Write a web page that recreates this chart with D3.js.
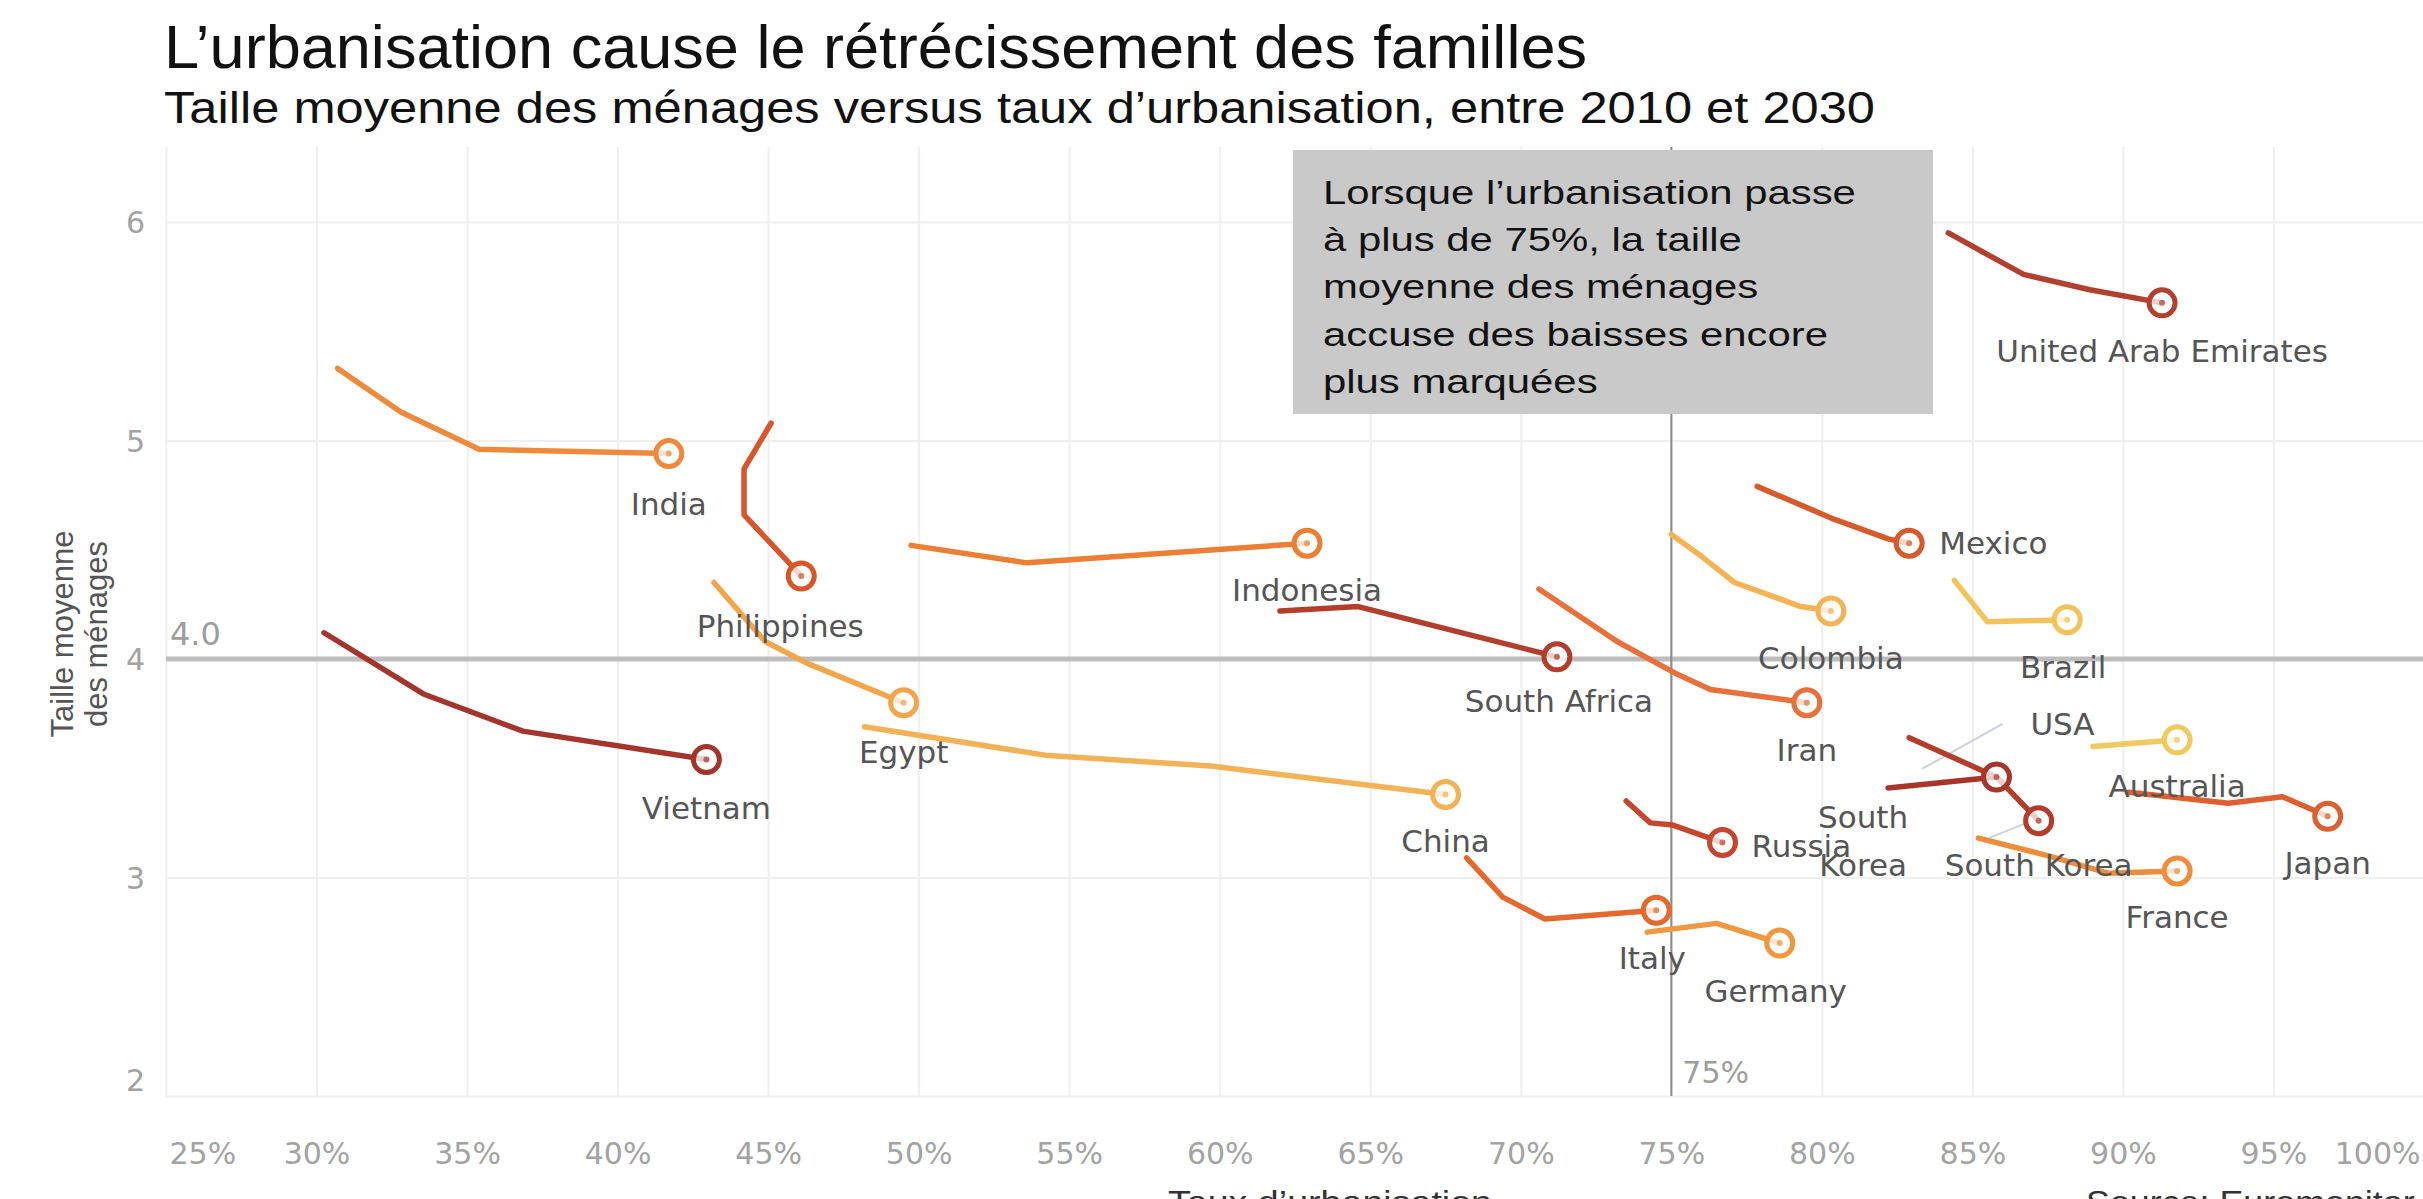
<!DOCTYPE html>
<html>
<head>
<meta charset="utf-8">
<script src="https://cdn.jsdelivr.net/npm/d3@7"></script>
<style>
  body { margin: 0; background: #fff; }
  svg { display: block; }
  .grid line { stroke: #efefef; stroke-width: 2; }
  .tick-label text { font-family: "DejaVu Sans", sans-serif; font-size: 30px; fill: #a3a3a3; }
  .country-label { font-family: "DejaVu Sans", sans-serif; font-size: 31px; fill: #555; }
  .ref-label { font-family: "DejaVu Sans", sans-serif; fill: #9d9d9d; }
  .head { font-family: "Liberation Sans", Arial, sans-serif; fill: #111; }
  .axis-title { font-family: "Liberation Sans", Arial, sans-serif; fill: #555; font-size: 31px; }
</style>
</head>
<body>
<div class="app"></div>
<script>
'use strict'

// pays, dans l'ordre des tableaux ci-dessous
var countries = ["India", "Philippines", "Vietnam", "Egypt", "Indonesia", "China",
  "South Africa", "Italy", "Germany", "Russia", "Iran", "Mexico", "Colombia", "Brazil",
  "United Arab Emirates", "USA", "South Korea", "Australia", "Japan", "France"];

// taux d'urbanisation (%), de 2010 à 2030
var urbanRates = [
  [30.7, 32.8, 35.4, 41.7],
  [45.1, 44.2, 44.2, 46.1],
  [30.25, 33.55, 36.85, 42.95],
  [43.2, 44.9, 46.3, 49.5],
  [49.75, 53.6, 62.9],
  [48.2, 54.2, 59.7, 67.5],
  [62.0, 64.6, 71.2],
  [68.2, 69.4, 70.8, 74.5],
  [74.2, 76.5, 78.6],
  [73.5, 74.3, 75.05, 76.7],
  [70.6, 73.2, 75.2, 76.3, 79.5],
  [77.85, 80.4, 82.2, 82.9],
  [75.0, 76.0, 77.1, 79.3, 80.3],
  [84.4, 85.5, 88.15],
  [84.2, 86.7, 88.9, 91.3],
  [82.2, 85.8],
  [82.9, 85.8, 87.2],
  [89.0, 91.8],
  [90.2, 93.5, 95.3, 96.8],
  [85.2, 87.5, 89.5, 91.8]
];

// taille moyenne des ménages, mêmes années
var householdSizes = [
  [5.33, 5.13, 4.96, 4.94],
  [5.08, 4.87, 4.66, 4.38],
  [4.12, 3.84, 3.67, 3.54],
  [4.35, 4.08, 3.98, 3.80],
  [4.52, 4.44, 4.53],
  [3.69, 3.56, 3.51, 3.38],
  [4.22, 4.24, 4.01],
  [3.09, 2.91, 2.81, 2.85],
  [2.75, 2.79, 2.70],
  [3.35, 3.25, 3.24, 3.16],
  [4.32, 4.08, 3.93, 3.86, 3.80],
  [4.79, 4.64, 4.55, 4.53],
  [4.57, 4.47, 4.35, 4.24, 4.22],
  [4.36, 4.17, 4.18],
  [5.95, 5.76, 5.69, 5.63],
  [3.41, 3.46],
  [3.64, 3.46, 3.26],
  [3.60, 3.63],
  [3.39, 3.34, 3.37, 3.28],
  [3.18, 3.10, 3.02, 3.03]
];

var xTicks = [25, 30, 35, 40, 45, 50, 55, 60, 65, 70, 75, 80, 85, 90, 95, 100];
var yTicks = [2, 3, 4, 5, 6];
var refSize = 4.0;
var refUrban = 75;

var title = "L’urbanisation cause le rétrécissement des familles";
var subtitle = "Taille moyenne des ménages versus taux d’urbanisation, entre 2010 et 2030";
var noteLines = ["Lorsque l’urbanisation passe", "à plus de 75%, la taille",
  "moyenne des ménages", "accuse des baisses encore", "plus marquées"];

// couleurs des courbes
var colors = ["#ef8a3d", "#d8562c", "#a3352c", "#f3a54c", "#ec7f33", "#f4b257",
  "#b23e2b", "#e4692f", "#f0973f", "#c5472d", "#e8703a", "#d75a2b", "#f4b456",
  "#f2c35a", "#b2402e", "#a8352a", "#b53b2b", "#f0c95f", "#de5f2f", "#ef8d3c"];

// position des étiquettes par rapport au dernier point (px)
var labelPlacement = {
  "India": {dx: 0, dy: 50},
  "Philippines": {dx: -21, dy: 50},
  "Vietnam": {dx: 0, dy: 48},
  "Egypt": {dx: 0, dy: 49},
  "Indonesia": {dx: 0, dy: 47},
  "China": {dx: 0, dy: 46},
  "South Africa": {dx: 2, dy: 44},
  "Italy": {dx: -4, dy: 48},
  "Germany": {dx: -4, dy: 48},
  "Russia": {dx: 29, dy: 3, anchor: "start"},
  "Iran": {dx: 0, dy: 47},
  "Mexico": {dx: 30, dy: 0, anchor: "start"},
  "Colombia": {dx: 0, dy: 47},
  "Brazil": {dx: -4, dy: 47},
  "United Arab Emirates": {dx: 0, dy: 48},
  "USA": {dx: 66, dy: -53},
  "South Korea": {dx: 0, dy: 44},
  "Australia": {dx: 0, dy: 46},
  "Japan": {dx: 0, dy: 47},
  "France": {dx: 0, dy: 46}
};

var W = 2423, H = 1199;
var plotTop = 147;

var x = d3.scaleLinear().domain([25, 100]).range([166, 2424]);
var y = d3.scaleLinear().domain([2, 6]).range([1096, 222]);

var svg = d3.select(".app").append("svg")
  .attr("width", W)
  .attr("height", H);

// titre et sous-titre
svg.append("text").attr("class", "head")
  .attr("x", 164).attr("y", 68)
  .attr("font-size", 61)
  .attr("textLength", 1423).attr("lengthAdjust", "spacingAndGlyphs")
  .text(title);

svg.append("text").attr("class", "head")
  .attr("x", 164).attr("y", 123)
  .attr("font-size", 44)
  .attr("textLength", 1711).attr("lengthAdjust", "spacingAndGlyphs")
  .text(subtitle);

// grille
var gridX = svg.append("g").attr("class", "grid")
  .attr("transform", "translate(0," + y(2) + ")")
  .call(d3.axisBottom(x).tickValues(xTicks).tickSize(-(y(2) - plotTop)).tickFormat(""));
gridX.select(".domain").remove();

var gridY = svg.append("g").attr("class", "grid")
  .attr("transform", "translate(" + x(25) + ",0)")
  .call(d3.axisLeft(y).tickValues(yTicks).tickSize(-(W - x(25))).tickFormat(""));
gridY.select(".domain").remove();

// axe X
var xAxis = svg.append("g").attr("class", "tick-label")
  .attr("transform", "translate(0,1153)")
  .call(d3.axisBottom(x).tickValues(xTicks).tickSize(0).tickPadding(0)
    .tickFormat(function(d) { return d + "%"; }));
xAxis.select(".domain").remove();
xAxis.selectAll("text").attr("dy", "0.36em")
  .attr("text-anchor", function(d) { return d === 25 ? "start" : d === 100 ? "end" : "middle"; })
  .attr("dx", function(d) { return d === 25 ? 3 : d === 100 ? -4 : 0; });

// axe Y
var yAxis = svg.append("g").attr("class", "tick-label")
  .attr("transform", "translate(145,0)")
  .call(d3.axisLeft(y).tickValues(yTicks).tickSize(0).tickPadding(0)
    .tickFormat(d3.format("d")));
yAxis.select(".domain").remove();
yAxis.selectAll("text")
  .attr("dy", function(d) { return d === 2 ? "-0.18em" : "0.36em"; });

// titre de l'axe Y
svg.append("text").attr("class", "axis-title")
  .attr("transform", "translate(73,634) rotate(-90)")
  .attr("text-anchor", "middle").text("Taille moyenne");
svg.append("text").attr("class", "axis-title")
  .attr("transform", "translate(107,634) rotate(-90)")
  .attr("text-anchor", "middle").text("des ménages");

// lignes de référence
svg.append("line")
  .attr("x1", x(25)).attr("x2", W)
  .attr("y1", y(refSize)).attr("y2", y(refSize))
  .attr("stroke", "#bdbdbd").attr("stroke-width", 5);

svg.append("text").attr("class", "ref-label")
  .attr("x", x(25) + 4).attr("y", y(refSize) - 14)
  .attr("font-size", 32)
  .text(refSize.toFixed(1));

svg.append("line")
  .attr("x1", x(refUrban)).attr("x2", x(refUrban))
  .attr("y1", plotTop).attr("y2", y(2))
  .attr("stroke", "#8a8a8a").attr("stroke-width", 2);

svg.append("text").attr("class", "ref-label")
  .attr("x", x(refUrban) + 11).attr("y", y(2) - 13)
  .attr("font-size", 30)
  .text(refUrban + "%");

// encadré
svg.append("rect")
  .attr("x", 1293).attr("y", 150)
  .attr("width", 640).attr("height", 264)
  .attr("fill", "#c9c9c9");

var note = svg.append("g")
  .attr("transform", "translate(1323,204) scale(1.25,1)");
note.selectAll("text").data(noteLines).enter().append("text")
  .attr("class", "head")
  .attr("font-size", 33.5)
  .attr("y", function(d, i) { return i * 47.2; })
  .text(function(d) { return d; });

// séries
var series = countries.map(function(name, i) {
  return {
    name: name,
    color: colors[i],
    points: urbanRates[i].map(function(u, j) { return {u: u, h: householdSizes[i][j]}; })
  };
});

var line = d3.line()
  .x(function(d) { return x(d.u); })
  .y(function(d) { return y(d.h); });

function lastPoint(d) { return d.points[d.points.length - 1]; }

// traits de rappel des étiquettes
var usa = series[countries.indexOf("USA")];
var korea = series[countries.indexOf("South Korea")];
var usaEnd = lastPoint(usa), usaStart = usa.points[0];
var lx = x(usaEnd.u) + labelPlacement["USA"].dx - 60;
var ly = y(usaEnd.h) + labelPlacement["USA"].dy;
svg.append("line")
  .attr("x1", lx).attr("y1", ly)
  .attr("x2", lx + (x(usaStart.u) - lx) * 0.7).attr("y2", ly + (y(usaStart.h) - ly) * 0.7)
  .attr("stroke", "#c9d2de").attr("stroke-width", 2);
var kEnd = lastPoint(korea);
svg.append("line")
  .attr("x1", x(kEnd.u) - 56).attr("y1", y(kEnd.h) + 20)
  .attr("x2", x(kEnd.u) - 14).attr("y2", y(kEnd.h) + 3)
  .attr("stroke", "#c9d2de").attr("stroke-width", 2);

var marks = svg.append("g").attr("class", "marks");

marks.selectAll("path").data(series).enter().append("path")
  .attr("d", function(d) { return line(d.points); })
  .attr("fill", "none")
  .attr("stroke", function(d) { return d.color; })
  .attr("stroke-width", 5.5)
  .attr("stroke-linejoin", "round")
  .attr("stroke-linecap", "round");

var ends = marks.selectAll("g.end").data(series).enter().append("g")
  .attr("class", "end")
  .attr("transform", function(d) {
    var p = lastPoint(d);
    return "translate(" + x(p.u) + "," + y(p.h) + ")";
  });

ends.append("circle")
  .attr("r", 13)
  .attr("fill", "#fff").attr("fill-opacity", 0.75)
  .attr("stroke", function(d) { return d.color; })
  .attr("stroke-width", 5);

ends.append("circle")
  .attr("r", 3)
  .attr("fill", function(d) { return d.color; })
  .attr("fill-opacity", 0.7);

// étiquettes des pays
svg.append("g").selectAll("text").data(series).enter().append("text")
  .attr("class", "country-label")
  .attr("x", function(d) { return x(lastPoint(d).u) + labelPlacement[d.name].dx; })
  .attr("y", function(d) { return y(lastPoint(d).h) + labelPlacement[d.name].dy; })
  .attr("dy", "0.36em")
  .attr("text-anchor", function(d) { return labelPlacement[d.name].anchor || "middle"; })
  .text(function(d) { return d.name; });

// seconde étiquette « South Korea » à gauche
var extra = svg.append("text").attr("class", "country-label")
  .attr("text-anchor", "middle")
  .attr("transform", "translate(" + (x(usaStart.u) - 25) + "," + (y(usaStart.h) + 29) + ")");
extra.append("tspan").attr("x", 0).attr("dy", "0.36em").text("South");
extra.append("tspan").attr("x", 0).attr("dy", 48).text("Korea");

// titre de l'axe X et source, coupés en bas
svg.append("text").attr("class", "head")
  .attr("x", 1168).attr("y", 1213)
  .attr("font-size", 32).style("fill", "#333")
  .attr("textLength", 324).attr("lengthAdjust", "spacingAndGlyphs")
  .text("Taux d’urbanisation");

svg.append("text").attr("class", "head")
  .attr("transform", "translate(2086,1213) scale(1.12,1)")
  .attr("font-size", 32).style("fill", "#333")
  .text("Source: Euromonitor International");
</script>
</body>
</html>
